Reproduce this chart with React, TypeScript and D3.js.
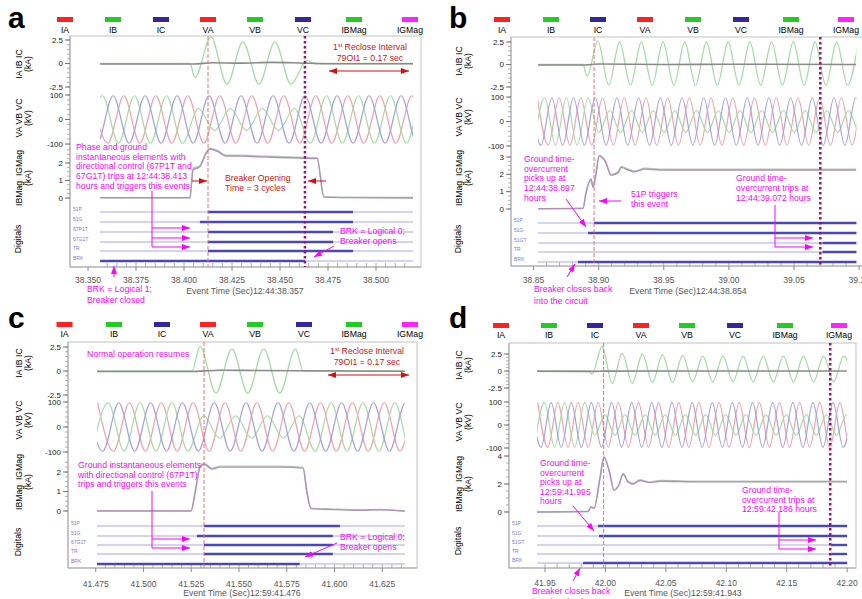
import React from "react";
import * as d3 from "d3";

const H = 1 / 120; // half a cycle at 60 Hz: spacing of the listed peaks
const FONT = "'Liberation Sans', Arial, Helvetica, sans-serif";
const MAG = "#ff00ff";
const RED = "#d41010";

const legendNames = ["IA", "IB", "IC", "VA", "VB", "VC", "IBMag", "IGMag"];
const legendColors = ["#ff2020", "#22cc22", "#33279e", "#ff2020", "#22cc22", "#33279e", "#22cc22", "#ff22ff"];

// ---------- a : first trip, 12:44:38.357
const ticksA = [38.35, 38.375, 38.4, 38.425, 38.45, 38.475, 38.5];
const vaA = [97, -97, 97, -97, 97, -97, 97, -97, 97, -97, 97, -97, 97, -97, 97, -97, 97, -97, 97, -97, 97, -97, 97];
const vbA = [-97, 97, -97, 97, -97, 97, -97, 45, -45, 45, -45, 45, -45, 45, -97, 97, -97, 97, -97, 97, -97, 97, -97];
const vcA = [97, -97, 97, -97, 97, -97, 97, -97, 97, -97, 97, -97, 97, -97, 97, -97, 97, -97, 97, -97, 97, -97, 97];
const ibA = [-1.5, 2.8, -2.2, 2.3, -2.2, 2.3, -2.2, 0.3];
const iacTA = [38.3563, 38.405, 38.415, 38.43, 38.445, 38.46, 38.475, 38.5193];
const iacVA = [-0.05, -0.05, 0.08, 0.04, 0.12, 0.06, -0.03, -0.02];
const magTA = [38.3563, 38.4031, 38.4047, 38.4083, 38.4115, 38.4135, 38.4177, 38.4219, 38.4292, 38.4396, 38.4552, 38.4693, 38.4729, 38.4813, 38.5193];
const ibmA = [0, 0, 1.7, 1.85, 2.6, 2.85, 2.7, 2.45, 2.45, 2.4, 2.35, 2.3, 0.08, 0.05, 0.03];
const igmA = [0.02, 0.02, 1.6, 1.8, 2.55, 2.8, 2.65, 2.4, 2.4, 2.35, 2.3, 2.25, 0.05, 0.02, 0];
const rowsA = ["51P", "51G", "67P1T", "67G1T", "TR", "BRK"];
const onA = [[38.4125, 38.488], [38.4083, 38.488], [38.4125, 38.4776], [38.4125, 38.4776], [38.4125, 38.488], [38.3563, 38.463]];

// ---------- b : reclose onto the fault, 12:44:38.854
const ticksB = [38.85, 38.9, 38.95, 39.0, 39.05, 39.1];
const vaB = [97, -97, 97, -97, 97, -97, 97, -97, 97, -97, 97, -97, 97, -97, 97, -97, 97, -97, 97, -97, 97, -97, 97, -97, 97, -97, 97, -97, 97, -97, 97, -97];
const vbB = [-97, 97, -97, 97, -97, 97, -45, 45, -45, 45, -45, 45, -45, 45, -45, 45, -45, 45, -45, 45, -45, 45, -45, 45, -45, 45, -45, 45, -45, 45, -45, 45];
const vcB = [97, -97, 97, -97, 97, -97, 97, -97, 97, -97, 97, -97, 97, -97, 97, -97, 97, -97, 97, -97, 97, -97, 97, -97, 97, -97, 97, -97, 97, -97, 97, -97];
const ibB = [-1.3, 2.6, -2.3, 2.5, -2.3, 2.5, -2.3, 2.5, -2.3, 2.5, -2.3, 2.5, -2.3, 2.5, -2.3, 2.5, -2.3, 2.5, -2.3, 2.5, -2.3, 2.5, -2.3, 2.5, -2.3, 2.5];
const iacTB = [38.8535, 38.89, 38.9, 38.95, 39.0, 39.0979];
const iacVB = [-0.05, -0.05, 0.05, 0, 0.03, 0];
const magTB = [38.8535, 38.888, 38.8903, 38.8942, 38.8957, 38.898, 38.9003, 38.905, 38.9096, 38.915, 38.9173, 38.9226, 38.9273, 38.9357, 38.9472, 39.0979];
const ibmB = [0, 0.05, 1.0, 1.75, 1.3, 2.1, 3.1, 2.8, 2.0, 2.15, 2.45, 2.3, 2.2, 2.35, 2.3, 2.3];
const igmB = [0.02, 0.03, 0.9, 1.7, 1.25, 2.0, 3.05, 2.75, 1.95, 2.1, 2.4, 2.25, 2.15, 2.3, 2.25, 2.25];
const rowsB = ["51P", "51G", "51GT", "TR", "BRK"];
const onB = [[38.8965, 39.0979], [38.8919, 39.0979], [39.0718, 39.0979], [39.0718, 39.0979], [38.8842, 39.0979]];

// ---------- c : first trip, 12:59:41.476
const ticksC = [41.475, 41.5, 41.525, 41.55, 41.575, 41.6, 41.625];
const vaC = [97, -97, 97, -97, 97, -97, 97, -97, 97, -97, 97, -97, 97, -97, 97, -97, 97, -97, 97, -97, 97, -97];
const vbC = [-97, 97, -97, 97, -97, 97, -97, 45, -45, 45, -45, 45, -45, 45, -97, 97, -97, 97, -97, 97, -97, 97];
const vcC = [97, -97, 97, -97, 97, -97, 97, -97, 97, -97, 97, -97, 97, -97, 97, -97, 97, -97, 97, -97, 97, -97];
const ibC = [2.6, -2.3, 2.3, -2.3, 2.3, -2.3, 2.3];
const iacTC = [41.4757, 41.525, 41.54, 41.56, 41.58, 41.6368];
const iacVC = [-0.05, -0.05, 0.08, 0.05, 0.03, -0.02];
const magTC = [41.4757, 41.5249, 41.527, 41.5296, 41.5317, 41.5359, 41.5401, 41.5558, 41.5715, 41.5835, 41.5856, 41.5877, 41.5976, 41.6133, 41.6238, 41.6368];
const ibmC = [0.02, 0.02, 1.0, 2.3, 2.45, 2.2, 2.3, 2.3, 2.3, 2.25, 1.0, 0.15, 0.1, 0.06, 0.08, 0];
const igmC = [0, 0, 0.9, 2.25, 2.4, 2.15, 2.25, 2.25, 2.25, 2.2, 0.9, 0.12, 0.08, 0.04, 0.06, 0];
const rowsC = ["51P", "51G", "67G1T", "TR", "BRK"];
const onC = [[41.5317, 41.6028], [41.528, 41.5991], [41.5317, 41.5991], [41.5317, 41.5991], [41.4757, 41.5818]];

// ---------- d : reclose onto the fault, 12:59:41.943
const ticksD = [41.95, 42.0, 42.05, 42.1, 42.15, 42.2];
const vaD = [97, -97, 97, -97, 97, -97, 97, -97, 97, -97, 97, -97, 97, -97, 97, -97, 97, -97, 97, -97, 97, -97, 97, -97, 97, -97, 97, -97, 97, -97, 97, -97, 97];
const vbD = [-97, 97, -97, 97, -97, 97, -45, 45, -45, 45, -45, 45, -45, 45, -45, 45, -45, 45, -45, 45, -45, 45, -45, 45, -45, 45, -45, 45, -45, 45, -45, 45, -45];
const vcD = [97, -97, 97, -97, 97, -97, 97, -97, 97, -97, 97, -97, 97, -97, 97, -97, 97, -97, 97, -97, 97, -97, 97, -97, 97, -97, 97, -97, 97, -97, 97, -97, 97];
const ibD = [-0.5, 3.6, -1.8, 2.6, -1.8, 2.5, -1.7, 2.4, -1.7, 2.3, -1.6, 2.2, -1.6, 2.2, -1.6, 2.2, -1.6, 2.2, -1.6, 2.2, -1.6, 2.2, -1.6, 2.2, -1.6, 2.2, -1.6];
const iacTD = [41.9434, 41.99, 42.0, 42.1, 42.2];
const iacVD = [-0.03, -0.05, -0.02, 0, 0];
const magTD = [41.9434, 41.9856, 41.9881, 41.9906, 41.9955, 41.9988, 42.003, 42.0071, 42.0113, 42.0146, 42.0187, 42.0228, 42.0286, 42.0369, 42.0452, 42.0783, 42.2];
const ibmD = [0, 0.05, 0.4, 0.3, 2.5, 3.95, 3.0, 1.6, 2.0, 2.75, 2.2, 2.05, 2.3, 2.15, 2.25, 2.2, 2.2];
const igmD = [0, 0.03, 0.35, 0.25, 2.4, 3.9, 2.95, 1.55, 1.95, 2.7, 2.15, 2.0, 2.25, 2.1, 2.2, 2.15, 2.15];
const rowsD = ["51P", "51G", "51GT", "TR", "BRK"];
const onD = [[41.9939, 42.2], [41.9947, 42.2], [42.1868, 42.2], [42.1868, 42.2], [41.9815, 42.2]];

type Pt = [number, number];

function Txt({ x, y, lines, fill = MAG, dy = 9.7, anchor = "start" }: any) {
  return (
    <text fontSize={8.7} fill={fill} textAnchor={anchor}>
      {lines.map((l: string, i: number) => (
        <tspan key={i} x={x} y={y + i * dy}>{l}</tspan>
      ))}
    </text>
  );
}

function Arrow({ x1, y1, x2, y2, color = MAG, both = false }: any) {
  const id = color === MAG ? "hm" : "hr";
  return (
    <line x1={x1} y1={y1} x2={x2} y2={y2} stroke={color} strokeWidth={1}
      markerEnd={`url(#${id})`} markerStart={both ? `url(#${id})` : undefined} />
  );
}

function Reclose({ x, y }: any) {
  return (
    <g>
      <text x={x} y={y} textAnchor="middle" fill={RED} fontSize={8.7}>
        1<tspan fontSize={5.5} dy={-3}>st</tspan><tspan dy={3}> Reclose Interval</tspan>
      </text>
      <text x={x} y={y + 11} textAnchor="middle" fill={RED} fontSize={8.7}>79OI1 = 0.17 sec</text>
    </g>
  );
}

function Bracket({ x, y1, ys, x2 }: any) {
  return (
    <g>
      <line x1={x} x2={x} y1={y1} y2={ys[ys.length - 1]} stroke={MAG} />
      {ys.map((y: number) => <Arrow key={y} x1={x} y1={y} x2={x2} y2={y} />)}
    </g>
  );
}

function NotesA() {
  return (
    <g>
      <Reclose x={370} y={50} />
      <Arrow x1={329} y1={71} x2={409} y2={71} color={RED} both />
      <Txt x={76} y={150} lines={["Phase and ground", "instantaneous elements with", "directional control (67P1T and", "67G1T) trips at 12:44:38.413", "hours and triggers this events"]} />
      <Txt x={225} y={181} fill={RED} dy={10} lines={["Breaker Opening", "Time = 3 cycles"]} />
      <Arrow x1={192} y1={181} x2={207} y2={181} color={RED} />
      <Arrow x1={326} y1={181} x2={308} y2={181} color={RED} />
      <Bracket x={152} y1={191} ys={[228, 238, 247]} x2={190} />
      <Txt x={340} y={234} dy={10} lines={["BRK = Logical 0;", "Breaker opens"]} />
      <Arrow x1={334} y1={246} x2={314} y2={257} />
      <Txt x={87} y={292} dy={11} lines={["BRK = Logical 1;", "Breaker closed"]} />
      <Arrow x1={114} y1={277} x2={114} y2={266} />
    </g>
  );
}

function NotesB() {
  return (
    <g>
      <Txt x={524} y={162} lines={["Ground time-", "overcurrent", "picks up at", "12:44:38.897", "hours"]} />
      <Arrow x1={566} y1={199} x2={586} y2={227} />
      <Txt x={631} y={197} dy={10} lines={["51P triggers", "this event"]} />
      <Arrow x1={621} y1={201} x2={599} y2={201} />
      <Txt x={736} y={181} dy={10} lines={["Ground time-", "overcurrent trips at", "12:44:39.072 hours"]} />
      <Bracket x={775} y1={205} ys={[238, 247]} x2={813} />
      <Txt x={534} y={292} dy={12} lines={["Breaker closes back", "into the circuit"]} />
      <Arrow x1={567} y1={277} x2={575} y2={264} />
    </g>
  );
}

function NotesC() {
  return (
    <g>
      <Txt x={87} y={357} lines={["Normal operation resumes"]} />
      <Reclose x={367} y={354} />
      <Arrow x1={328} y1={375} x2={409} y2={375} color={RED} both />
      <Txt x={78} y={468} dy={9.5} lines={["Ground instantaneous elements", "with directional control (67P1T)", "trips and triggers this events"]} />
      <Bracket x={152} y1={491} ys={[539, 548]} x2={190} />
      <Txt x={340} y={540} dy={10} lines={["BRK = Logical 0;", "Breaker opens"]} />
      <Arrow x1={337} y1={543} x2={305} y2={557} />
    </g>
  );
}

function NotesD() {
  return (
    <g>
      <Txt x={540} y={466} dy={9.5} lines={["Ground time-", "overcurrent", "picks up at", "12:59:41.995", "hours"]} />
      <Arrow x1={573} y1={506} x2={594} y2={531} />
      <Txt x={742} y={493} dy={9.7} lines={["Ground time-", "overcurrent trips at", "12:59:42.186 hours"]} />
      <Bracket x={779} y1={512} ys={[540, 549]} x2={816} />
      <Txt x={532} y={594} dy={11} lines={["Breaker closes back", "into the circuit"]} />
      <Arrow x1={573} y1={581} x2={580} y2={568} />
    </g>
  );
}

const panels: any[] = [
  {
    key: "a", letter: "a", letterX: 8, letterY: 28, legendX: [65, 113, 161, 208, 255, 303, 354, 410], legendBarY: 17, legendTextY: 32.5,
    left: 70, right: 421, top: 36, bottom: 267, tA: [38.35, 38.5], pxA: [88, 376], ticks: ticksA, minorStep: 0.005, dec: 3,
    tickY: 283, title: "Event Time (Sec)12:44:38.357", titleX: 245, titleY: 294, win: [38.3563, 38.5193],
    curY: [40, 87], voltY: [95, 144], magDomain: [0, 2], magY: [198, 163], magTicks: [0, 1, 2], magMinor: [0, 2.75, 0.25],
    rowY: [212, 222, 232, 242, 251, 261], rows: rowsA, on: onA,
    lab: { x1: 22, x2: 31, cur: 64, volt: 118, mag: 178, dig: 239 }, red: 38.4125, purple: 38.463,
    va: { t0: 38.352, vals: vaA }, vb: { t0: 38.3492, vals: vbA }, vc: { t0: 38.3464, vals: vcA },
    ib: { on: 38.4031, t0: 38.4057, vals: ibA, off: 38.4681 }, iac: { t: iacTA, v: iacVA }, ibm: { t: magTA, v: ibmA }, igm: { t: magTA, v: igmA },
    Notes: NotesA,
  },
  {
    key: "b", letter: "b", letterX: 449, letterY: 28, legendX: [502, 551, 598, 645, 693, 741, 791, 846], legendBarY: 17, legendTextY: 32.5,
    left: 511, right: 866, top: 37, bottom: 266, tA: [38.85, 39.05], pxA: [533.5, 794], ticks: ticksB, minorStep: 0.01, dec: 2,
    tickY: 283, title: "Event Time (Sec)12:44:38.854", titleX: 688, titleY: 294, win: [38.8535, 39.0979],
    curY: [42, 87], voltY: [97, 146], magDomain: [0, 3], magY: [209, 157], magTicks: [0, 1, 2, 3], magMinor: [0, 3, 0.25],
    rowY: [223, 233, 243, 252, 262], rows: rowsB, on: onB,
    lab: { x1: 462, x2: 471, cur: 61, volt: 117, mag: 178, dig: 239 }, red: 38.8965, purple: 39.0702,
    va: { t0: 38.853, vals: vaB }, vb: { t0: 38.8502, vals: vbB }, vc: { t0: 38.8474, vals: vcB },
    ib: { on: 38.888, t0: 38.8911, vals: ibB }, iac: { t: iacTB, v: iacVB }, ibm: { t: magTB, v: ibmB }, igm: { t: magTB, v: igmB },
    Notes: NotesB,
  },
  {
    key: "c", letter: "c", letterX: 8, letterY: 328, legendX: [64.5, 114, 162, 208, 255, 304, 354, 410], legendBarY: 322, legendTextY: 337,
    left: 68, right: 417, top: 342, bottom: 568, tA: [41.475, 41.625], pxA: [95.7, 382.3], ticks: ticksC, minorStep: 0.005, dec: 3,
    tickY: 587, title: "Event Time (Sec)12:59:41.476", titleX: 242, titleY: 596, win: [41.4757, 41.6368],
    curY: [347, 395], voltY: [402, 452], magDomain: [0, 2], magY: [511, 472], magTicks: [0, 1, 2], magMinor: [0, 2.5, 0.25],
    rowY: [526, 536, 545, 554, 564], rows: rowsC, on: onC,
    lab: { x1: 22, x2: 31, cur: 363, volt: 420, mag: 482, dig: 542 }, red: 41.5317,
    va: { t0: 41.476, vals: vaC }, vb: { t0: 41.4732, vals: vbC }, vc: { t0: 41.4704, vals: vcC },
    ib: { on: 41.5254, t0: 41.5296, vals: ibC, off: 41.5836 }, iac: { t: iacTC, v: iacVC }, ibm: { t: magTC, v: ibmC }, igm: { t: magTC, v: igmC },
    Notes: NotesC,
  },
  {
    key: "d", letter: "d", letterX: 449, letterY: 328, legendX: [501, 549, 595, 641, 687, 735, 785, 839], legendBarY: 323, legendTextY: 338,
    left: 509, right: 856, top: 343, bottom: 568, tA: [41.95, 42.15], pxA: [545, 786.7], ticks: ticksD, minorStep: 0.01, dec: 2,
    tickY: 586, title: "Event Time (Sec)12:59:41.943", titleX: 683, titleY: 596, win: [41.9434, 42.2],
    curY: [354, 388], voltY: [402, 448], magDomain: [0, 4], magY: [512, 456], magTicks: [0, 2, 4], magMinor: [0, 4, 0.5],
    rowY: [526, 536, 545, 554, 563], rows: rowsD, on: onD,
    lab: { x1: 462, x2: 471, cur: 365, volt: 422, mag: 484, dig: 541 }, red: 41.9985, purple: 42.186,
    va: { t0: 41.944, vals: vaD }, vb: { t0: 41.9412, vals: vbD }, vc: { t0: 41.9384, vals: vcD },
    ib: { on: 41.9864, t0: 41.9889, vals: ibD }, iac: { t: iacTD, v: iacVD }, ibm: { t: magTD, v: ibmD }, igm: { t: magTD, v: igmD },
    Notes: NotesD,
  },
];

function Panel({ c }: { c: any }) {
  const x = d3.scaleLinear().domain(c.tA).range(c.pxA);
  const yI = d3.scaleLinear().domain([2.5, -2.5]).range(c.curY);
  const yV = d3.scaleLinear().domain([100, -100]).range(c.voltY);
  const yM = d3.scaleLinear().domain(c.magDomain).range(c.magY);
  const mk = (ys: any) => d3.line<Pt>().x((d) => x(d[0])).y((d) => ys(d[1])).curve(d3.curveMonotoneX);

  const wave = (w: any): Pt[] => w.vals.map((v: number, i: number) => [w.t0 + i * H, v]);
  const fault = (f: any): Pt[] => [
    [c.win[0], 0], [f.on, 0], ...wave(f), ...(f.off ? ([[f.off, 0], [c.win[1], 0]] as Pt[]) : []),
  ];
  const series = (s: any): Pt[] => s.t.map((t: number, i: number) => [t, s.v[i]]);

  const xa = x(c.win[0]);
  const xb = x(c.win[1]);
  const clipId = "clip-" + c.key;
  const minor = d3.range(Math.ceil(c.win[0] / c.minorStep) * c.minorStep, c.win[1], c.minorStep);
  const fmt = d3.format("." + c.dec + "f");

  const yAxes = [
    { s: yI, major: [2.5, 0, -2.5], minor: d3.range(-2.5, 2.51, 0.5) },
    { s: yV, major: [100, 0, -100], minor: d3.range(-100, 101, 20) },
    { s: yM, major: c.magTicks, minor: d3.range(c.magMinor[0], c.magMinor[1] + 0.001, c.magMinor[2]) },
  ];

  const rot = (xx: number, yy: number, t: string) => (
    <text key={t + yy + xx} transform={`translate(${xx},${yy}) rotate(-90)`} textAnchor="middle" fontSize={8.7}>{t}</text>
  );
  const Notes = c.Notes;

  return (
    <g>
      <defs>
        <clipPath id={clipId}>
          <rect x={xa} y={c.top} width={xb - xa} height={c.bottom - c.top} />
        </clipPath>
      </defs>
      <text x={c.letterX} y={c.letterY} fontSize={30} fontWeight="bold">{c.letter}</text>
      {legendNames.map((n, i) => (
        <g key={n}>
          <rect x={c.legendX[i] - 8} y={c.legendBarY} width={16} height={5} fill={legendColors[i]} />
          <text x={c.legendX[i]} y={c.legendTextY} textAnchor="middle" fontSize={8.7}>{n}</text>
        </g>
      ))}

      <rect x={c.left} y={c.top} width={c.right - c.left} height={c.bottom - c.top} fill="none" stroke="#cfcfcf" strokeWidth={1.3} />
      <line x1={c.left} x2={c.left} y1={c.top} y2={c.bottom} stroke="#a9a9a9" />
      <line x1={c.left} x2={c.right} y1={c.bottom} y2={c.bottom} stroke="#a9a9a9" />

      {yAxes.map((a, k) => (
        <g key={k}>
          {a.minor.map((v: number) => (
            <line key={"m" + v} x1={c.left - 3} x2={c.left} y1={a.s(v)} y2={a.s(v)} stroke="#999" strokeWidth={0.8} />
          ))}
          {a.major.map((v: number) => (
            <g key={"M" + v}>
              <line x1={c.left - 5} x2={c.left} y1={a.s(v)} y2={a.s(v)} stroke="#777" />
              <text x={c.left - 7} y={a.s(v) + 2.8} textAnchor="end" fontSize={8} fill="#222">{String(v)}</text>
            </g>
          ))}
        </g>
      ))}

      {minor.map((t: number) => (
        <line key={"xm" + t} x1={x(t)} x2={x(t)} y1={c.bottom - 4} y2={c.bottom} stroke="#999" strokeWidth={0.8} />
      ))}
      {c.ticks.map((t: number) => (
        <g key={"xt" + t}>
          <line x1={x(t)} x2={x(t)} y1={c.bottom} y2={c.bottom + 4} stroke="#888" />
          <text x={x(t)} y={c.tickY} textAnchor="middle" fontSize={8.5} fill="#555">{fmt(t)}</text>
        </g>
      ))}
      <text x={c.titleX} y={c.titleY} textAnchor="middle" fontSize={8.7} fill="#555">{c.title}</text>

      {rot(c.lab.x1, c.lab.cur, "IA IB IC")}
      {rot(c.lab.x2, c.lab.cur, "(kA)")}
      {rot(c.lab.x1, c.lab.volt, "VA VB VC")}
      {rot(c.lab.x2, c.lab.volt, "(kV)")}
      {rot(c.lab.x1, c.lab.mag, "IBMag\u00a0\u00a0IGMag")}
      {rot(c.lab.x2, c.lab.mag, "(kA)")}
      {rot(c.lab.x1 - 1, c.lab.dig, "Digitals")}

      {c.rows.map((r: string, i: number) => (
        <g key={r}>
          <text x={c.left + 3} y={c.rowY[i] - 1.5} fontSize={5} fill="#7b7bcc">{r}</text>
          <line x1={xa} x2={xb} y1={c.rowY[i]} y2={c.rowY[i]} stroke="#c6c6ee" strokeWidth={1.5} />
          <line x1={x(c.on[i][0])} x2={x(c.on[i][1])} y1={c.rowY[i]} y2={c.rowY[i]} stroke="#4a48b8" strokeWidth={2.4} />
        </g>
      ))}

      <g clipPath={`url(#${clipId})`} fill="none">
        <path d={mk(yV)(wave(c.va)) || ""} stroke="#f2a0aa" strokeWidth={1.2} />
        <path d={mk(yV)(wave(c.vb)) || ""} stroke="#a6dca6" strokeWidth={1.2} />
        <path d={mk(yV)(wave(c.vc)) || ""} stroke="#a4a0dc" strokeWidth={1.2} />
        <path d={mk(yI)(fault(c.ib)) || ""} stroke="#a6dca6" strokeWidth={1.3} />
        <path d={mk(yI)(series(c.iac)) || ""} stroke="#8a8a8a" strokeWidth={1.6} />
        <path d={mk(yM)(series(c.ibm)) || ""} stroke="#b4d4b4" strokeWidth={1.4} />
        <path d={mk(yM)(series(c.igm)) || ""} stroke="#b08fb8" strokeWidth={1.4} />
      </g>

      <line x1={x(c.red)} x2={x(c.red)} y1={c.top} y2={c.bottom} stroke="#ee6f6f" strokeWidth={1} strokeDasharray="4 2" />
      {c.purple !== undefined && (
        <line x1={x(c.purple)} x2={x(c.purple)} y1={c.top} y2={c.bottom} stroke="#9a1468" strokeWidth={2.5} strokeDasharray="2.5 2.5" />
      )}
      <Notes />
    </g>
  );
}

export default function App() {
  return (
    <svg width={862} height={599} style={{ position: "absolute", left: 0, top: 0, background: "#fff" }} fontFamily={FONT}>
      <defs>
        <marker id="hm" viewBox="0 0 8 6" refX={8} refY={3} markerWidth={8} markerHeight={6} markerUnits="userSpaceOnUse" orient="auto-start-reverse">
          <path d="M0,0L8,3L0,6z" fill={MAG} />
        </marker>
        <marker id="hr" viewBox="0 0 8 6" refX={8} refY={3} markerWidth={8} markerHeight={6} markerUnits="userSpaceOnUse" orient="auto-start-reverse">
          <path d="M0,0L8,3L0,6z" fill={RED} />
        </marker>
      </defs>
      {panels.map((c) => <Panel key={c.key} c={c} />)}
    </svg>
  );
}
